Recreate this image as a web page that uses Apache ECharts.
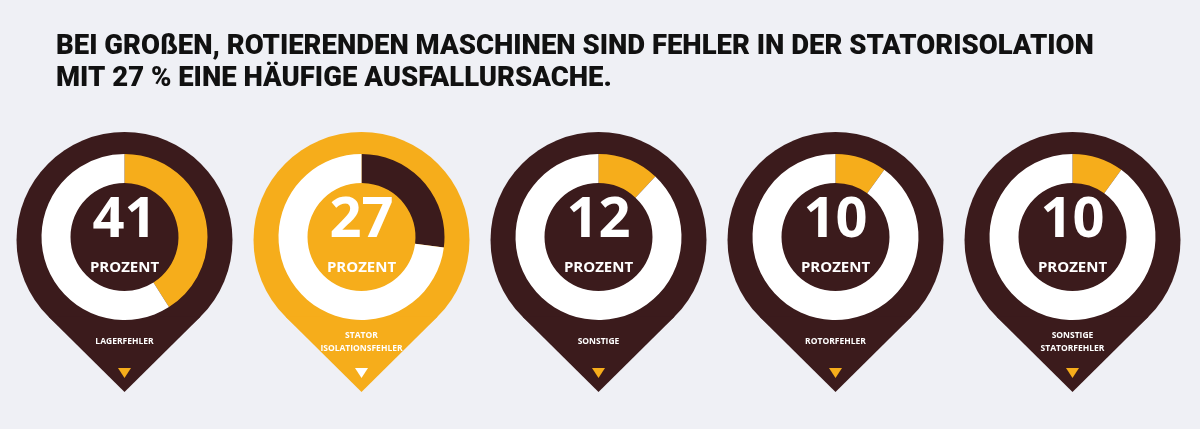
<!DOCTYPE html>
<html>
<head>
<meta charset="utf-8">
<script src="https://cdn.jsdelivr.net/npm/echarts@6/dist/echarts.min.js"></script>
<style>
html,body{margin:0;padding:0;background:#eff0f5;}
#chart{width:1200px;height:429px;}
</style>
</head>
<body>
<div id="chart"></div>
<script>
// ---- data ----
const titleText = 'BEI GROßEN, ROTIERENDEN MASCHINEN SIND FEHLER IN DER STATORISOLATION\nMIT 27 % EINE HÄUFIGE AUSFALLURSACHE.';
const categories = ['LAGERFEHLER', 'STATOR\nISOLATIONSFEHLER', 'SONSTIGE', 'ROTORFEHLER', 'SONSTIGE\nSTATORFEHLER'];
const values = [41, 27, 12, 10, 10];
const highlighted = [false, true, false, false, false];
const unitLabel = 'PROZENT';

// ---- style / layout ----
const BROWN = '#3b1b1c';
const YELLOW = '#f6ad1b';
const WHITE = '#ffffff';
const W = 1200;
const GRID_LEFT = 6, GRID_RIGHT = 9;
const BAND = (W - GRID_LEFT - GRID_RIGHT) / categories.length;
const PIN_CY = 240, PIN_R = 108, PIN_TIP = 392;
const RING_CY = 237, RING_IN = 54, RING_OUT = 83;

const chart = echarts.init(document.getElementById('chart'), null, {renderer: 'canvas'});

function pinItem(params, api) {
  const i = api.value(0);
  const cx = api.coord([i, 0])[0];
  const hl = highlighted[i];
  const fill = hl ? YELLOW : BROWN;
  const d = PIN_TIP - PIN_CY;
  const cosT = PIN_R / d;
  const sinT = Math.sqrt(1 - cosT * cosT);
  const tx = PIN_R * sinT, ty = PIN_CY + PIN_R * cosT;
  return {
    type: 'group',
    children: [
      {type: 'circle', shape: {cx: cx, cy: PIN_CY, r: PIN_R}, style: {fill: fill}},
      {type: 'polygon', shape: {points: [[cx - tx, ty], [cx + tx, ty], [cx, PIN_TIP]]}, style: {fill: fill}},
      {type: 'polygon', shape: {points: [[cx - 6.5, 368], [cx + 6.5, 368], [cx, 378]]}, style: {fill: hl ? WHITE : YELLOW}}
    ]
  };
}

function textItem(params, api) {
  const i = api.value(0);
  const cx = api.coord([i, 0])[0];
  return {
    type: 'group',
    children: [
      {type: 'text', style: {x: cx, y: 221, text: String(values[i]), fill: WHITE,
        font: 'bold 56px "Open Sans", "Noto Sans", sans-serif', align: 'center', verticalAlign: 'middle'}},
      {type: 'text', style: {x: cx, y: 268, text: unitLabel, fill: WHITE,
        font: 'bold 15px "Open Sans", "Noto Sans", sans-serif', align: 'center', verticalAlign: 'middle'}},
      {type: 'text', style: {x: cx, y: 342, text: categories[i], fill: WHITE,
        font: 'bold 8.5px "Open Sans", "Noto Sans", sans-serif', lineHeight: 13, align: 'center', verticalAlign: 'middle'}}
    ]
  };
}

const series = [
  {type: 'custom', z: 1, silent: true, renderItem: pinItem, data: values.map((v, i) => [i, v])}
];
values.forEach((v, i) => {
  const hl = highlighted[i];
  series.push({
    type: 'pie', z: 2, silent: true, animation: false,
    center: [GRID_LEFT + BAND * (i + 0.5), RING_CY],
    radius: [RING_IN, RING_OUT],
    startAngle: 90, clockwise: true,
    label: {show: false}, labelLine: {show: false},
    itemStyle: {borderWidth: 0},
    data: [
      {name: categories[i], value: v, itemStyle: {color: hl ? BROWN : YELLOW}},
      {name: 'rest', value: 100 - v, itemStyle: {color: WHITE}}
    ]
  });
});
series.push({type: 'custom', z: 3, silent: true, renderItem: textItem, data: values.map((v, i) => [i, v])});

chart.setOption({
  backgroundColor: '#eff0f5',
  animation: false,
  title: {
    text: titleText, left: 51, top: 26,
    textStyle: {fontFamily: 'Roboto', fontWeight: 900, fontSize: 27.5, lineHeight: 32, color: '#111111'}
  },
  grid: {left: GRID_LEFT, right: GRID_RIGHT, top: 0, bottom: 0},
  xAxis: {type: 'category', data: categories, show: false, boundaryGap: true},
  yAxis: {type: 'value', show: false, min: 0, max: 100},
  series: series
});
</script>
</body>
</html>
